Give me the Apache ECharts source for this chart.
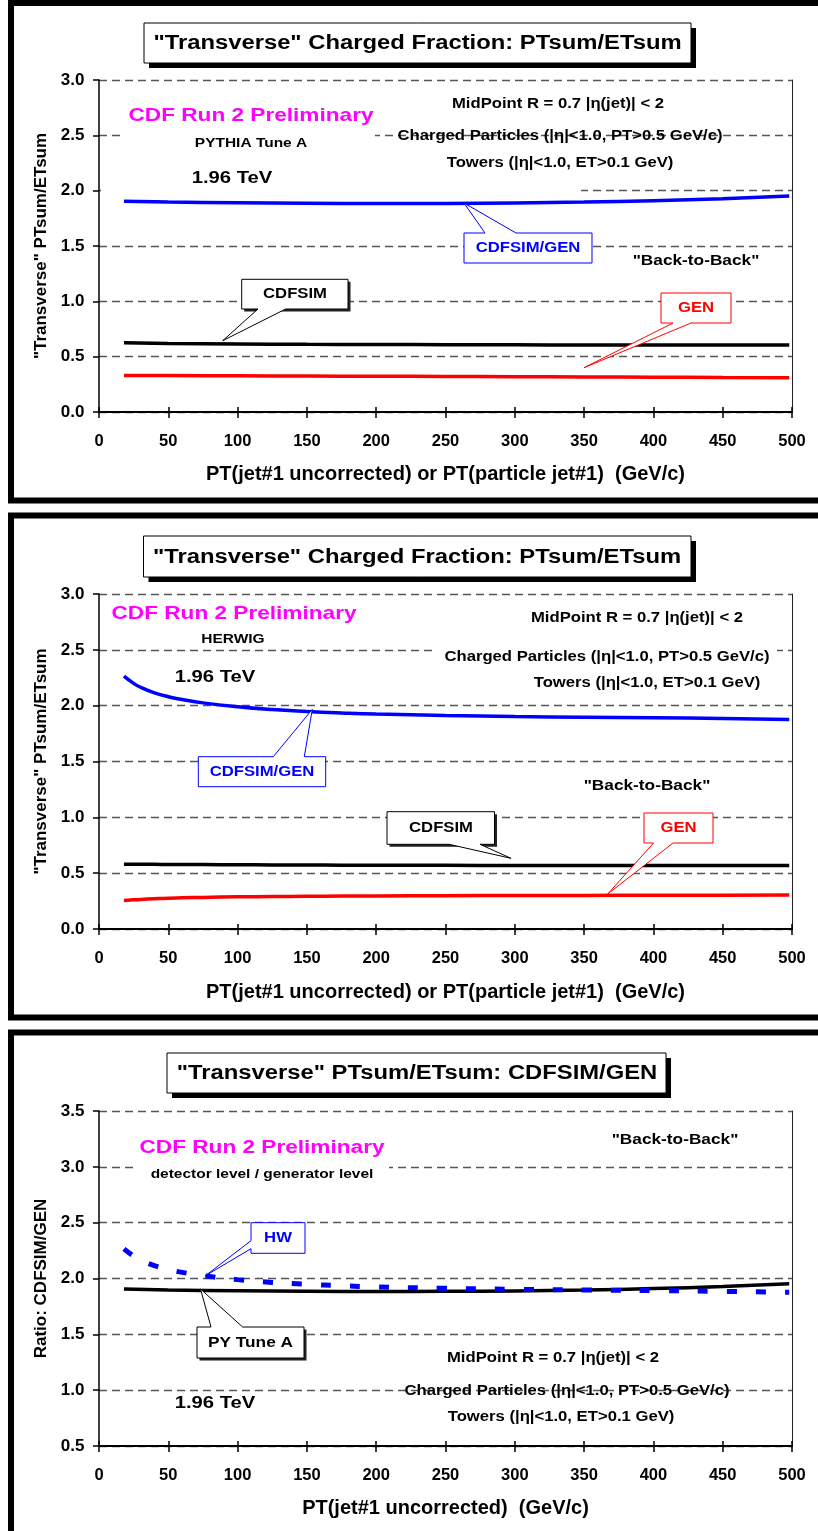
<!DOCTYPE html>
<html>
<head>
<meta charset="utf-8">
<script src="https://cdn.jsdelivr.net/npm/echarts@6/dist/echarts.min.js"></script>
<style>
html,body{margin:0;padding:0;background:#fff;}
#c{width:818px;height:1531px;}
</style>
</head>
<body>
<div id="c"></div>
<script>
// ---------------- data ----------------
const ptPythia = [18, 50, 100, 150, 200, 250, 300, 350, 400, 450, 498];
const pyCdfsim = [0.625, 0.620, 0.615, 0.612, 0.610, 0.608, 0.607, 0.606, 0.605, 0.605, 0.605];
const pyGen    = [0.330, 0.329, 0.327, 0.325, 0.323, 0.321, 0.319, 0.317, 0.315, 0.312, 0.310];
const pyRatio  = [1.905, 1.897, 1.890, 1.886, 1.884, 1.885, 1.889, 1.897, 1.910, 1.928, 1.952];

const ptHerwig = [18, 25, 30, 40, 50, 60, 75, 100, 125, 150, 175, 200, 250, 300, 350, 400, 450, 498];
const hwCdfsim = [0.580, 0.580, 0.579, 0.579, 0.578, 0.578, 0.577, 0.575, 0.574, 0.573, 0.572, 0.571, 0.570, 0.569, 0.568, 0.568, 0.568, 0.568];
const hwGen    = [0.255, 0.261, 0.265, 0.271, 0.276, 0.279, 0.283, 0.288, 0.291, 0.293, 0.295, 0.296, 0.298, 0.300, 0.301, 0.302, 0.303, 0.304];
const hwRatio  = [2.265, 2.200, 2.165, 2.115, 2.080, 2.055, 2.025, 1.990, 1.965, 1.948, 1.935, 1.925, 1.912, 1.903, 1.897, 1.892, 1.885, 1.877];

const xRange = [0, 500], xStep = 50;
const yRange1 = [0, 3], yRange2 = [0, 3], yRange3 = [0.5, 3.5], yStep = 0.5;

const titles = ['"Transverse" Charged Fraction: PTsum/ETsum',
                '"Transverse" Charged Fraction: PTsum/ETsum',
                '"Transverse" PTsum/ETsum: CDFSIM/GEN'];
const xNames = ['PT(jet#1 uncorrected) or PT(particle jet#1)  (GeV/c)',
                'PT(jet#1 uncorrected) or PT(particle jet#1)  (GeV/c)',
                'PT(jet#1 uncorrected)  (GeV/c)'];
const yNames = ['"Transverse" PTsum/ETsum', '"Transverse" PTsum/ETsum', 'Ratio: CDFSIM/GEN'];
const cutMid = 'MidPoint R = 0.7 |\u03b7(jet)| < 2';
const cutChg = 'Charged Particles (|\u03b7|<1.0, PT>0.5 GeV/c)';
const cutTow = 'Towers (|\u03b7|<1.0, ET>0.1 GeV)';

// ---------------- helpers ----------------
const FONT = "'Liberation Sans', Arial, sans-serif";
const zip = (xs, ys) => xs.map((x, i) => [x, ys[i]]);
const SX = 1.19;

function txt(x, y, s, size, color, sx) {
  return { type: 'text', x: x, y: y, scaleX: sx || SX, z: 20,
    style: { text: s, fontSize: size, fontWeight: 'bold', fontFamily: FONT,
             fill: color || '#000', align: 'center', verticalAlign: 'middle' } };
}
function rect(x, y, w, h, style, z) {
  return { type: 'rect', z: z, shape: { x: x, y: y, width: w, height: h }, style: style };
}
function poly(pts, color) {
  return { type: 'polygon', z: 15, shape: { points: pts },
           style: { fill: '#fff', stroke: color, lineWidth: 1 } };
}
// box shadow drawn only under the rectangular part of a callout
function boxShadow(x, y, w, h) {
  return rect(x + 2.5, y + 2.5, w, h, { fill: '#222' }, 14);
}
function titleBox(x, y, w, h, s, cx, cy) {
  return [
    rect(x + 5, y + 5, w, h, { fill: '#000' }, 14),
    rect(x, y, w, h, { fill: '#fff', stroke: '#000', lineWidth: 1 }, 15),
    txt(cx, cy, s, 20, '#000')
  ];
}
const mask = (x, y, w, h) => rect(x, y, w, h, { fill: '#fff' }, 1);

// ---------------- layout ----------------
const grids = [
  { left: 99, top: 80, width: 693, height: 332 },
  { left: 99, top: 594, width: 693, height: 335 },
  { left: 99, top: 1111, width: 693, height: 335 }
];
const yRanges = [yRange1, yRange2, yRange3];
const xNameGaps = [52, 53, 52];

const xAxes = [], yAxes = [];
grids.forEach((g, i) => {
  xAxes.push({
    type: 'value', gridIndex: i, min: xRange[0], max: xRange[1], interval: xStep, position: 'bottom',
    axisLine: { show: true, onZero: false, lineStyle: { color: '#000', width: 2 } },
    axisTick: { show: true, length: 6, lineStyle: { color: '#000', width: 1.5 } },
    axisLabel: { margin: 21, fontSize: 16.5, fontWeight: 'bold', color: '#000', fontFamily: FONT },
    splitLine: { show: false },
    name: xNames[i], nameLocation: 'middle', nameGap: xNameGaps[i],
    nameTextStyle: { fontSize: 20, fontWeight: 'bold', color: '#000', fontFamily: FONT }
  });
  yAxes.push({
    type: 'value', gridIndex: i, min: yRanges[i][0], max: yRanges[i][1], interval: yStep,
    axisLine: { show: true, onZero: false, lineStyle: { color: '#000', width: 1.5 } },
    axisTick: { show: true, length: 6, lineStyle: { color: '#000', width: 1.5 } },
    axisLabel: { margin: 14.5, fontSize: 17, fontWeight: 'bold', color: '#000', fontFamily: FONT,
                 formatter: v => v.toFixed(1) },
    splitLine: { show: true, lineStyle: { color: '#555', width: 1.3, type: [8, 5] } },
    name: yNames[i], nameLocation: 'middle', nameGap: 48,
    nameTextStyle: { fontSize: 17, fontWeight: 'bold', color: '#000', fontFamily: FONT }
  });
});
grids.forEach((g, i) => {
  xAxes.push({
    type: 'value', gridIndex: i, min: xRange[0], max: xRange[1], interval: xStep, position: 'bottom',
    axisLine: { show: false }, axisLabel: { show: false }, splitLine: { show: false },
    axisTick: { show: true, inside: true, length: 5, lineStyle: { color: '#000', width: 1.5 } }
  });
  yAxes.push({
    type: 'value', gridIndex: i, min: yRanges[i][0], max: yRanges[i][1], interval: yStep, position: 'right',
    axisLine: { show: true, onZero: false, lineStyle: { color: '#222', width: 1 } },
    axisTick: { show: false }, axisLabel: { show: false }, splitLine: { show: false }
  });
});

function line(xi, data, color, width, dash) {
  return {
    type: 'line', xAxisIndex: xi, yAxisIndex: xi, data: data, smooth: true, showSymbol: false,
    symbol: 'none', silent: true, z: 2,
    lineStyle: { color: color, width: width, type: dash || 'solid', cap: 'butt' }
  };
}

const series = [
  line(0, zip(ptPythia, pyRatio), '#0000ff', 3.5),
  line(0, zip(ptPythia, pyCdfsim), '#000000', 3.5),
  line(0, zip(ptPythia, pyGen), '#ff0000', 3.5),
  line(1, zip(ptHerwig, hwRatio), '#0000ff', 3.5),
  line(1, zip(ptHerwig, hwCdfsim), '#000000', 3.5),
  line(1, zip(ptHerwig, hwGen), '#ff0000', 3.5),
  line(2, zip(ptPythia, pyRatio), '#000000', 3.5),
  line(2, zip(ptHerwig, hwRatio), '#0000ff', 5, [10, 19])
];

const MAG = '#ff00ff', BLUE = '#0000ff', RED = '#ff0000';
const graphic = [].concat(
  // outer frames
  [ rect(11, 3, 830, 497.5, { fill: 'none', stroke: '#000', lineWidth: 6 }, 30),
    rect(11, 515.5, 830, 502, { fill: 'none', stroke: '#000', lineWidth: 6 }, 30),
    rect(11, 1032.5, 830, 520, { fill: 'none', stroke: '#000', lineWidth: 6 }, 30) ],
  // masks over grid lines (text boxes with white fill)
  [ mask(120, 131, 255, 9), mask(101, 187, 480, 8), mask(433, 646, 344, 9), mask(133, 1163, 256, 9) ],
  // titles
  titleBox(144, 23, 547, 40, titles[0], 417.5, 43.5),
  titleBox(143.5, 536, 547.5, 41, titles[1], 417, 557),
  titleBox(167, 1053, 499, 40, titles[2], 417, 1073.5),
  // panel 1 texts
  [ txt(251, 116, 'CDF Run 2 Preliminary', 19, MAG),
    txt(251, 143, 'PYTHIA Tune A', 13),
    txt(232, 178, '1.96 TeV', 17),
    txt(558, 104, cutMid, 14),
    txt(560, 136, cutChg, 14),
    txt(560, 163, cutTow, 14),
    txt(696, 261, '"Back-to-Back"', 14.5) ],
  // panel 1 callouts
  [ poly([[464,233],[485,233],[464,203],[516,233],[592,233],[592,263],[464,263]], BLUE),
    txt(528, 248, 'CDFSIM/GEN', 14, BLUE),
    boxShadow(241.7, 279.3, 106.3, 29.7),
    poly([[241.7,279.3],[348,279.3],[348,309],[285.7,309],[222.7,340.7],[258,309],[241.7,309]], '#000'),
    txt(295, 294.5, 'CDFSIM', 14),
    poly([[661,293],[731,293],[731,323],[691,323],[584,367.7],[673,323],[661,323]], RED),
    txt(696, 308.5, 'GEN', 14, RED) ],
  // panel 2 texts
  [ txt(234, 614, 'CDF Run 2 Preliminary', 19, MAG),
    txt(233, 639, 'HERWIG', 13),
    txt(215, 677, '1.96 TeV', 17),
    txt(637, 618, cutMid, 14),
    txt(607, 657, cutChg, 14),
    txt(647, 683, cutTow, 14),
    txt(647, 786, '"Back-to-Back"', 14.5) ],
  // panel 2 callouts
  [ poly([[198.3,756.7],[273.3,756.7],[312.3,709.3],[304.3,756.7],[325.7,756.7],[325.7,786.7],[198.3,786.7]], BLUE),
    txt(262, 772, 'CDFSIM/GEN', 14, BLUE),
    boxShadow(387, 811.7, 107.5, 32.6),
    poly([[387,811.7],[494.5,811.7],[494.5,844.3],[480,844.3],[511,858.3],[449,844.3],[387,844.3]], '#000'),
    txt(441, 828, 'CDFSIM', 14),
    poly([[644,813],[713,813],[713,843],[673,843],[607.7,894],[653.6,843],[644,843]], RED),
    txt(678.5, 828.5, 'GEN', 14, RED) ],
  // panel 3 texts
  [ txt(262, 1148, 'CDF Run 2 Preliminary', 19, MAG),
    txt(262, 1174, 'detector level / generator level', 13),
    txt(675, 1140, '"Back-to-Back"', 14.5),
    txt(553, 1358, cutMid, 14),
    txt(567, 1391, cutChg, 14),
    txt(561, 1417, cutTow, 14),
    txt(215, 1403, '1.96 TeV', 17) ],
  // panel 3 callouts
  [ poly([[251,1222.7],[305,1222.7],[305,1253.3],[251,1253.3],[251,1248.7],[205,1276],[251,1240.7]], BLUE),
    txt(278, 1238.5, 'HW', 14, BLUE),
    boxShadow(197, 1327, 107, 31),
    poly([[197,1327],[211,1327],[200.5,1289],[242.6,1327],[304,1327],[304,1358],[197,1358]], '#000'),
    txt(250.5, 1343, 'PY Tune A', 14.5) ]
);

const chart = echarts.init(document.getElementById('c'), null, { renderer: 'canvas' });
chart.setOption({
  animation: false,
  backgroundColor: '#fff',
  textStyle: { fontFamily: FONT },
  grid: grids,
  xAxis: xAxes,
  yAxis: yAxes,
  series: series,
  graphic: graphic
});
</script>
</body>
</html>
